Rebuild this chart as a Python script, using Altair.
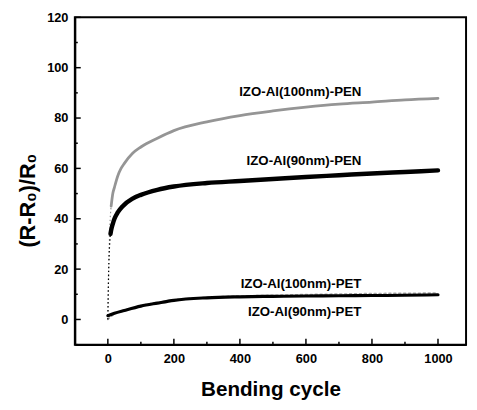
import altair as alt
import pandas as pd

# ---- data ----
pen100_x = [0, 2, 4, 6, 8, 10, 15, 20, 30, 40, 50, 75, 100, 150, 200, 300, 400, 500, 600, 700, 800, 900, 1000]
pen100_y = [0, 15, 28, 37, 42, 45, 50, 52.5, 57, 60, 62, 66, 68.5, 72, 75, 78.5, 81, 82.8, 84.3, 85.5, 86.3, 87.2, 87.8]

pen90_x = [0, 2, 4, 6, 8, 10, 15, 20, 30, 45, 75, 100, 150, 200, 300, 400, 500, 600, 700, 800, 900, 1000]
pen90_y = [0, 17, 26, 31, 34, 35.5, 38, 40, 42.5, 45, 48, 49.5, 51.5, 52.8, 54.2, 55, 55.8, 56.6, 57.3, 58, 58.6, 59.2]

pet100_x = [0, 20, 50, 100, 150, 200, 300, 400, 500, 600, 700, 800, 900, 1000]
pet100_y = [0, 2.2, 3.5, 5.5, 6.8, 7.8, 8.8, 9.3, 9.6, 9.9, 10.1, 10.3, 10.4, 10.5]

pet90_x = [0, 20, 50, 100, 150, 200, 300, 400, 500, 600, 700, 800, 900, 1000]
pet90_y = [1.5, 2.5, 3.6, 5.3, 6.5, 7.6, 8.6, 9.0, 9.2, 9.3, 9.4, 9.5, 9.6, 9.8]

label_text = ["IZO-Al(100nm)-PEN", "IZO-Al(90nm)-PEN", "IZO-Al(100nm)-PET", "IZO-Al(90nm)-PET"]
label_x = [768, 768, 768, 768]
label_y = [90.3, 62.9, 14.1, 3.1]

x_ticks = [0, 200, 400, 600, 800, 1000]
x_minor = [100, 300, 500, 700, 900]
y_ticks = [0, 20, 40, 60, 80, 100, 120]
y_minor = [-10, 10, 30, 50, 70, 90, 110]

W, H = 398, 333
FONT = "Liberation Sans"

xs = alt.Scale(domain=[-100, 1085], nice=False, zero=False)
ys = alt.Scale(domain=[-10, 120], nice=False, zero=False)

xaxis = alt.Axis(values=x_ticks, format="d", ticks=False, grid=False, labelPadding=8,
                 labelFont=FONT, labelFontSize=13, labelFontWeight="bold", labelColor="black",
                 domainColor="black", domainWidth=2,
                 title="Bending cycle", titleFont=FONT, titleFontSize=21, titleFontWeight="bold",
                 titleColor="black", titleBaseline="alphabetic", titleY=52)
yaxis = alt.Axis(values=y_ticks, format="d", ticks=False, grid=False, labelPadding=7,
                 labelFont=FONT, labelFontSize=13, labelFontWeight="bold", labelColor="black",
                 domainColor="black", domainWidth=2,
                 title="(R-R₀)/R₀", titleFont=FONT, titleFontSize=22, titleFontWeight="bold",
                 titleColor="black", titleBaseline="alphabetic", titleAngle=-90,
                 titleX=-41, titleY=186, titleAlign="center")

def enc(ch):
    return ch.encode(
        x=alt.X("x:Q", scale=xs, axis=xaxis),
        y=alt.Y("y:Q", scale=ys, axis=yaxis),
    )

def series(xv, yv, color, width, split=None, dash=None):
    df = pd.DataFrame({"x": xv, "y": yv})
    kw = dict(color=color, strokeWidth=width, interpolate="monotone", strokeCap="round")
    if dash:
        kw["strokeDash"] = dash
    layers = []
    if split is not None:
        thin = df[df["x"] <= split]
        layers.append(enc(alt.Chart(thin).mark_line(
            color=color, strokeWidth=1.2, strokeDash=[1.5, 2.5], interpolate="monotone")))
        df = df[df["x"] >= split]
    layers.append(enc(alt.Chart(df).mark_line(**kw)))
    return layers

l1 = series(pen100_x, pen100_y, "#959595", 2.8, split=10)
l2 = series(pen90_x, pen90_y, "black", 4.5, split=8)
l4 = series(pet90_x, pet90_y, "black", 3.2)
l3 = series(pet100_x, pet100_y, "#a8a8a8", 1.6, dash=[2, 3])

labels = alt.Chart(pd.DataFrame({"t": label_text, "x": label_x, "y": label_y})).mark_text(
    font=FONT, fontSize=13.5, fontWeight="bold", color="black", align="right", baseline="middle"
).encode(x=alt.X("x:Q", scale=xs), y=alt.Y("y:Q", scale=ys), text="t:N")

xt = alt.Chart(pd.DataFrame({"v": x_ticks})).mark_rule(color="black", strokeWidth=1.5).encode(
    x=alt.X("v:Q", scale=xs), y=alt.value(H), y2=alt.value(H - 6))
xm = alt.Chart(pd.DataFrame({"v": x_minor})).mark_rule(color="black", strokeWidth=1.5).encode(
    x=alt.X("v:Q", scale=xs), y=alt.value(H), y2=alt.value(H - 3))
yt = alt.Chart(pd.DataFrame({"v": y_ticks})).mark_rule(color="black", strokeWidth=1.5).encode(
    y=alt.Y("v:Q", scale=ys), x=alt.value(0), x2=alt.value(6))
ym = alt.Chart(pd.DataFrame({"v": y_minor})).mark_rule(color="black", strokeWidth=1.5).encode(
    y=alt.Y("v:Q", scale=ys), x=alt.value(0), x2=alt.value(3))

chart = alt.layer(*l3, *l1, *l2, *l4, labels, xt, xm, yt, ym).properties(
    width=W, height=H,
    autosize=alt.AutoSizeParams(type="none"),
    padding={"left": 68, "top": 6, "right": 3, "bottom": 63},
    background="white",
).configure_view(stroke="black", strokeWidth=2)

chart.save("out.html", embed_options={"renderer": "svg", "actions": False})
